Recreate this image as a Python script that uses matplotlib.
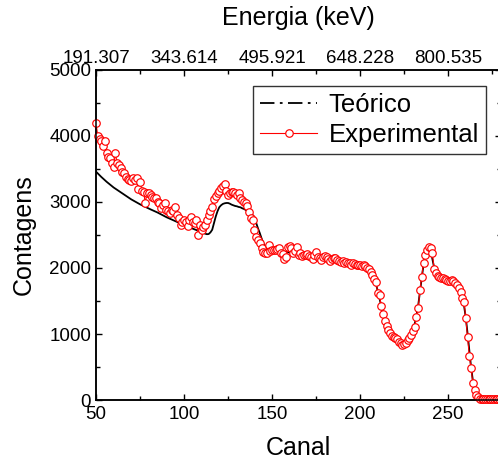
import numpy as np
import matplotlib
matplotlib.use("Agg")
import matplotlib.pyplot as plt
from matplotlib.lines import Line2D
from matplotlib.ticker import MultipleLocator, FixedLocator

plt.rcParams['font.family'] = ['Liberation Sans', 'DejaVu Sans']

# channels 50..280
canal = np.arange(50, 281)

experimental = [
    4200, 4000, 3960, 3930, 3850, 3920, 3740, 3680, 3660, 3590,   # 50-59
    3530, 3740, 3590, 3560, 3520, 3460, 3440, 3380, 3350, 3330,   # 60-69
    3320, 3360, 3340, 3360, 3200, 3300, 3160, 3150, 2990, 3140,   # 70-79
    3140, 3100, 3080, 3060, 3060, 3000, 2990, 2910, 2960, 2990,   # 80-89
    2880, 2860, 2840, 2880, 2870, 2920, 2800, 2760, 2650, 2700,   # 90-99
    2730, 2690, 2640, 2720, 2780, 2700, 2680, 2720, 2500, 2650,   # 100-109
    2580, 2620, 2650, 2730, 2800, 2870, 2930, 3040, 3090, 3140,   # 110-119
    3170, 3210, 3240, 3270, 3170, 3100, 3130, 3150, 3150, 3130,   # 120-129
    3100, 3130, 3060, 3030, 3000, 2980, 2940, 2850, 2760, 2730,   # 130-139
    2580, 2470, 2430, 2380, 2300, 2240, 2220, 2230, 2350, 2260,   # 140-149
    2270, 2280, 2270, 2290, 2300, 2230, 2210, 2140, 2170, 2320,   # 150-159
    2330, 2300, 2230, 2250, 2320, 2200, 2220, 2180, 2190, 2200,   # 160-169
    2210, 2180, 2170, 2140, 2200, 2240, 2160, 2150, 2120, 2170,   # 170-179
    2180, 2160, 2130, 2110, 2140, 2150, 2150, 2120, 2110, 2090,   # 180-189
    2100, 2080, 2090, 2070, 2080, 2050, 2070, 2060, 2050, 2040,   # 190-199
    2040, 2030, 2040, 2030, 2000, 1980, 1940, 1890, 1840, 1790,   # 200-209
    1620, 1590, 1420, 1300, 1200, 1120, 1060, 1010, 970, 950,     # 210-219
    940, 930, 880, 860, 830, 850, 870, 910, 940, 980,             # 220-229
    1040, 1100, 1260, 1400, 1670, 1870, 2080, 2200, 2280, 2320,   # 230-239
    2300, 2230, 1990, 1920, 1880, 1870, 1850, 1850, 1830, 1820,   # 240-249
    1810, 1800, 1820, 1800, 1780, 1740, 1700, 1640, 1540, 1490,   # 250-259
    1240, 960, 670, 480, 260, 150, 80, 40, 20, 15,                # 260-269
    15, 15, 15, 15, 15, 15, 15, 15, 15, 15, 15,                   # 270-280
]

teorico = [
    3460, 3433, 3406, 3380, 3355, 3330, 3307, 3285, 3262, 3240,   # 50-59
    3220, 3202, 3184, 3166, 3148, 3130, 3112, 3094, 3076, 3058,   # 60-69
    3040, 3025, 3010, 2995, 2980, 2965, 2952, 2939, 2926, 2913,   # 70-79
    2900, 2888, 2876, 2864, 2852, 2840, 2826, 2812, 2798, 2784,   # 80-89
    2770, 2758, 2746, 2734, 2722, 2710, 2698, 2686, 2674, 2662,   # 90-99
    2650, 2639, 2628, 2617, 2606, 2595, 2585, 2575, 2565, 2555,   # 100-109
    2545, 2532, 2520, 2512, 2515, 2540, 2580, 2680, 2780, 2860,   # 110-119
    2920, 2950, 2970, 2980, 2985, 2985, 2975, 2960, 2950, 2940,   # 120-129
    2935, 2925, 2920, 2905, 2895, 2880, 2860, 2840, 2820, 2800,   # 130-139
    2750, 2680, 2600, 2530, 2450, 2380, 2330, 2300, 2280, 2275,   # 140-149
    2270, 2268, 2265, 2262, 2258, 2254, 2250, 2246, 2242, 2238,   # 150-159
    2234, 2230, 2226, 2222, 2218, 2214, 2210, 2206, 2202, 2198,   # 160-169
    2194, 2190, 2186, 2182, 2178, 2174, 2170, 2166, 2162, 2158,   # 170-179
    2154, 2150, 2145, 2140, 2135, 2130, 2125, 2120, 2115, 2110,   # 180-189
    2105, 2100, 2095, 2090, 2085, 2080, 2075, 2070, 2065, 2060,   # 190-199
    2055, 2050, 2043, 2035, 2020, 2000, 1965, 1915, 1850, 1760,   # 200-209
    1650, 1540, 1420, 1310, 1210, 1125, 1055, 1000, 960, 930,     # 210-219
    905, 885, 868, 852, 840, 832, 832, 845, 880, 945,             # 220-229
    1040, 1150, 1280, 1440, 1640, 1850, 2050, 2200, 2290, 2310,   # 230-239
    2260, 2140, 2010, 1930, 1890, 1865, 1850, 1840, 1830, 1822,   # 240-249
    1815, 1808, 1800, 1790, 1775, 1750, 1710, 1650, 1560, 1430,   # 250-259
    1250, 1010, 750, 500, 300, 160, 80, 35, 15, 5,                # 260-269
    0, 0, 0, 0, 0, 0, 0, 0, 0, 0, 0,                              # 270-280
]

top_ticks = [50, 100, 150, 200, 250]
top_labels = ['191.307', '343.614', '495.921', '648.228', '800.535']

fig = plt.figure(figsize=(4.98, 4.65), dpi=100)
ax = fig.add_axes([96 / 498, 65 / 465, 405 / 498, 330 / 465])

ax.plot(canal, teorico, color='black', lw=1.3, zorder=2)
ax.plot(canal, experimental, color='red', lw=0.8, marker='o', ms=5.4,
        mfc='white', mec='red', mew=0.85, zorder=3, clip_on=False)

ax.set_xlim(50, 280)
ax.set_ylim(0, 5000)
ax.xaxis.set_major_locator(MultipleLocator(50))
ax.xaxis.set_minor_locator(MultipleLocator(25))
ax.yaxis.set_major_locator(MultipleLocator(1000))
ax.yaxis.set_minor_locator(MultipleLocator(500))
ax.tick_params(which='both', direction='in', right=True, width=1, labelsize=13.5)
ax.tick_params(which='major', length=4.5)
ax.tick_params(which='minor', length=2.8)
ax.tick_params(axis='x', pad=4)
for s in ax.spines.values():
    s.set_linewidth(1.1)

ax.set_xlabel('Canal', fontsize=18, labelpad=10)
ax.set_ylabel('Contagens', fontsize=18, labelpad=10)

ax2 = ax.twiny()
ax2.set_xlim(ax.get_xlim())
ax2.xaxis.set_major_locator(FixedLocator(top_ticks))
ax2.set_xticklabels(top_labels)
ax2.xaxis.set_minor_locator(MultipleLocator(25))
ax2.tick_params(which='both', direction='in', width=1, labelsize=13.5, pad=2)
ax2.tick_params(which='major', length=4.5)
ax2.tick_params(which='minor', length=2.8)
ax2.set_xlabel('Energia (keV)', fontsize=18, labelpad=18)
for s in ax2.spines.values():
    s.set_linewidth(1.1)

handles = [
    Line2D([], [], color='black', lw=1.3, linestyle=(0, (8, 3, 1.5, 3))),
    Line2D([], [], color='red', lw=0.8, marker='o', ms=5.4, mfc='white',
           mec='red', mew=0.85),
]
leg = ax.legend(handles, ['Teórico', 'Experimental'], loc='upper right',
                bbox_to_anchor=(0.963, 0.952), fontsize=18.5, frameon=True,
                fancybox=False, edgecolor='black', handlelength=2.2,
                handletextpad=0.45, borderpad=0.28, labelspacing=0.22,
                borderaxespad=0)
leg.get_frame().set_linewidth(1.0)

fig.savefig('out.png', dpi=100)
